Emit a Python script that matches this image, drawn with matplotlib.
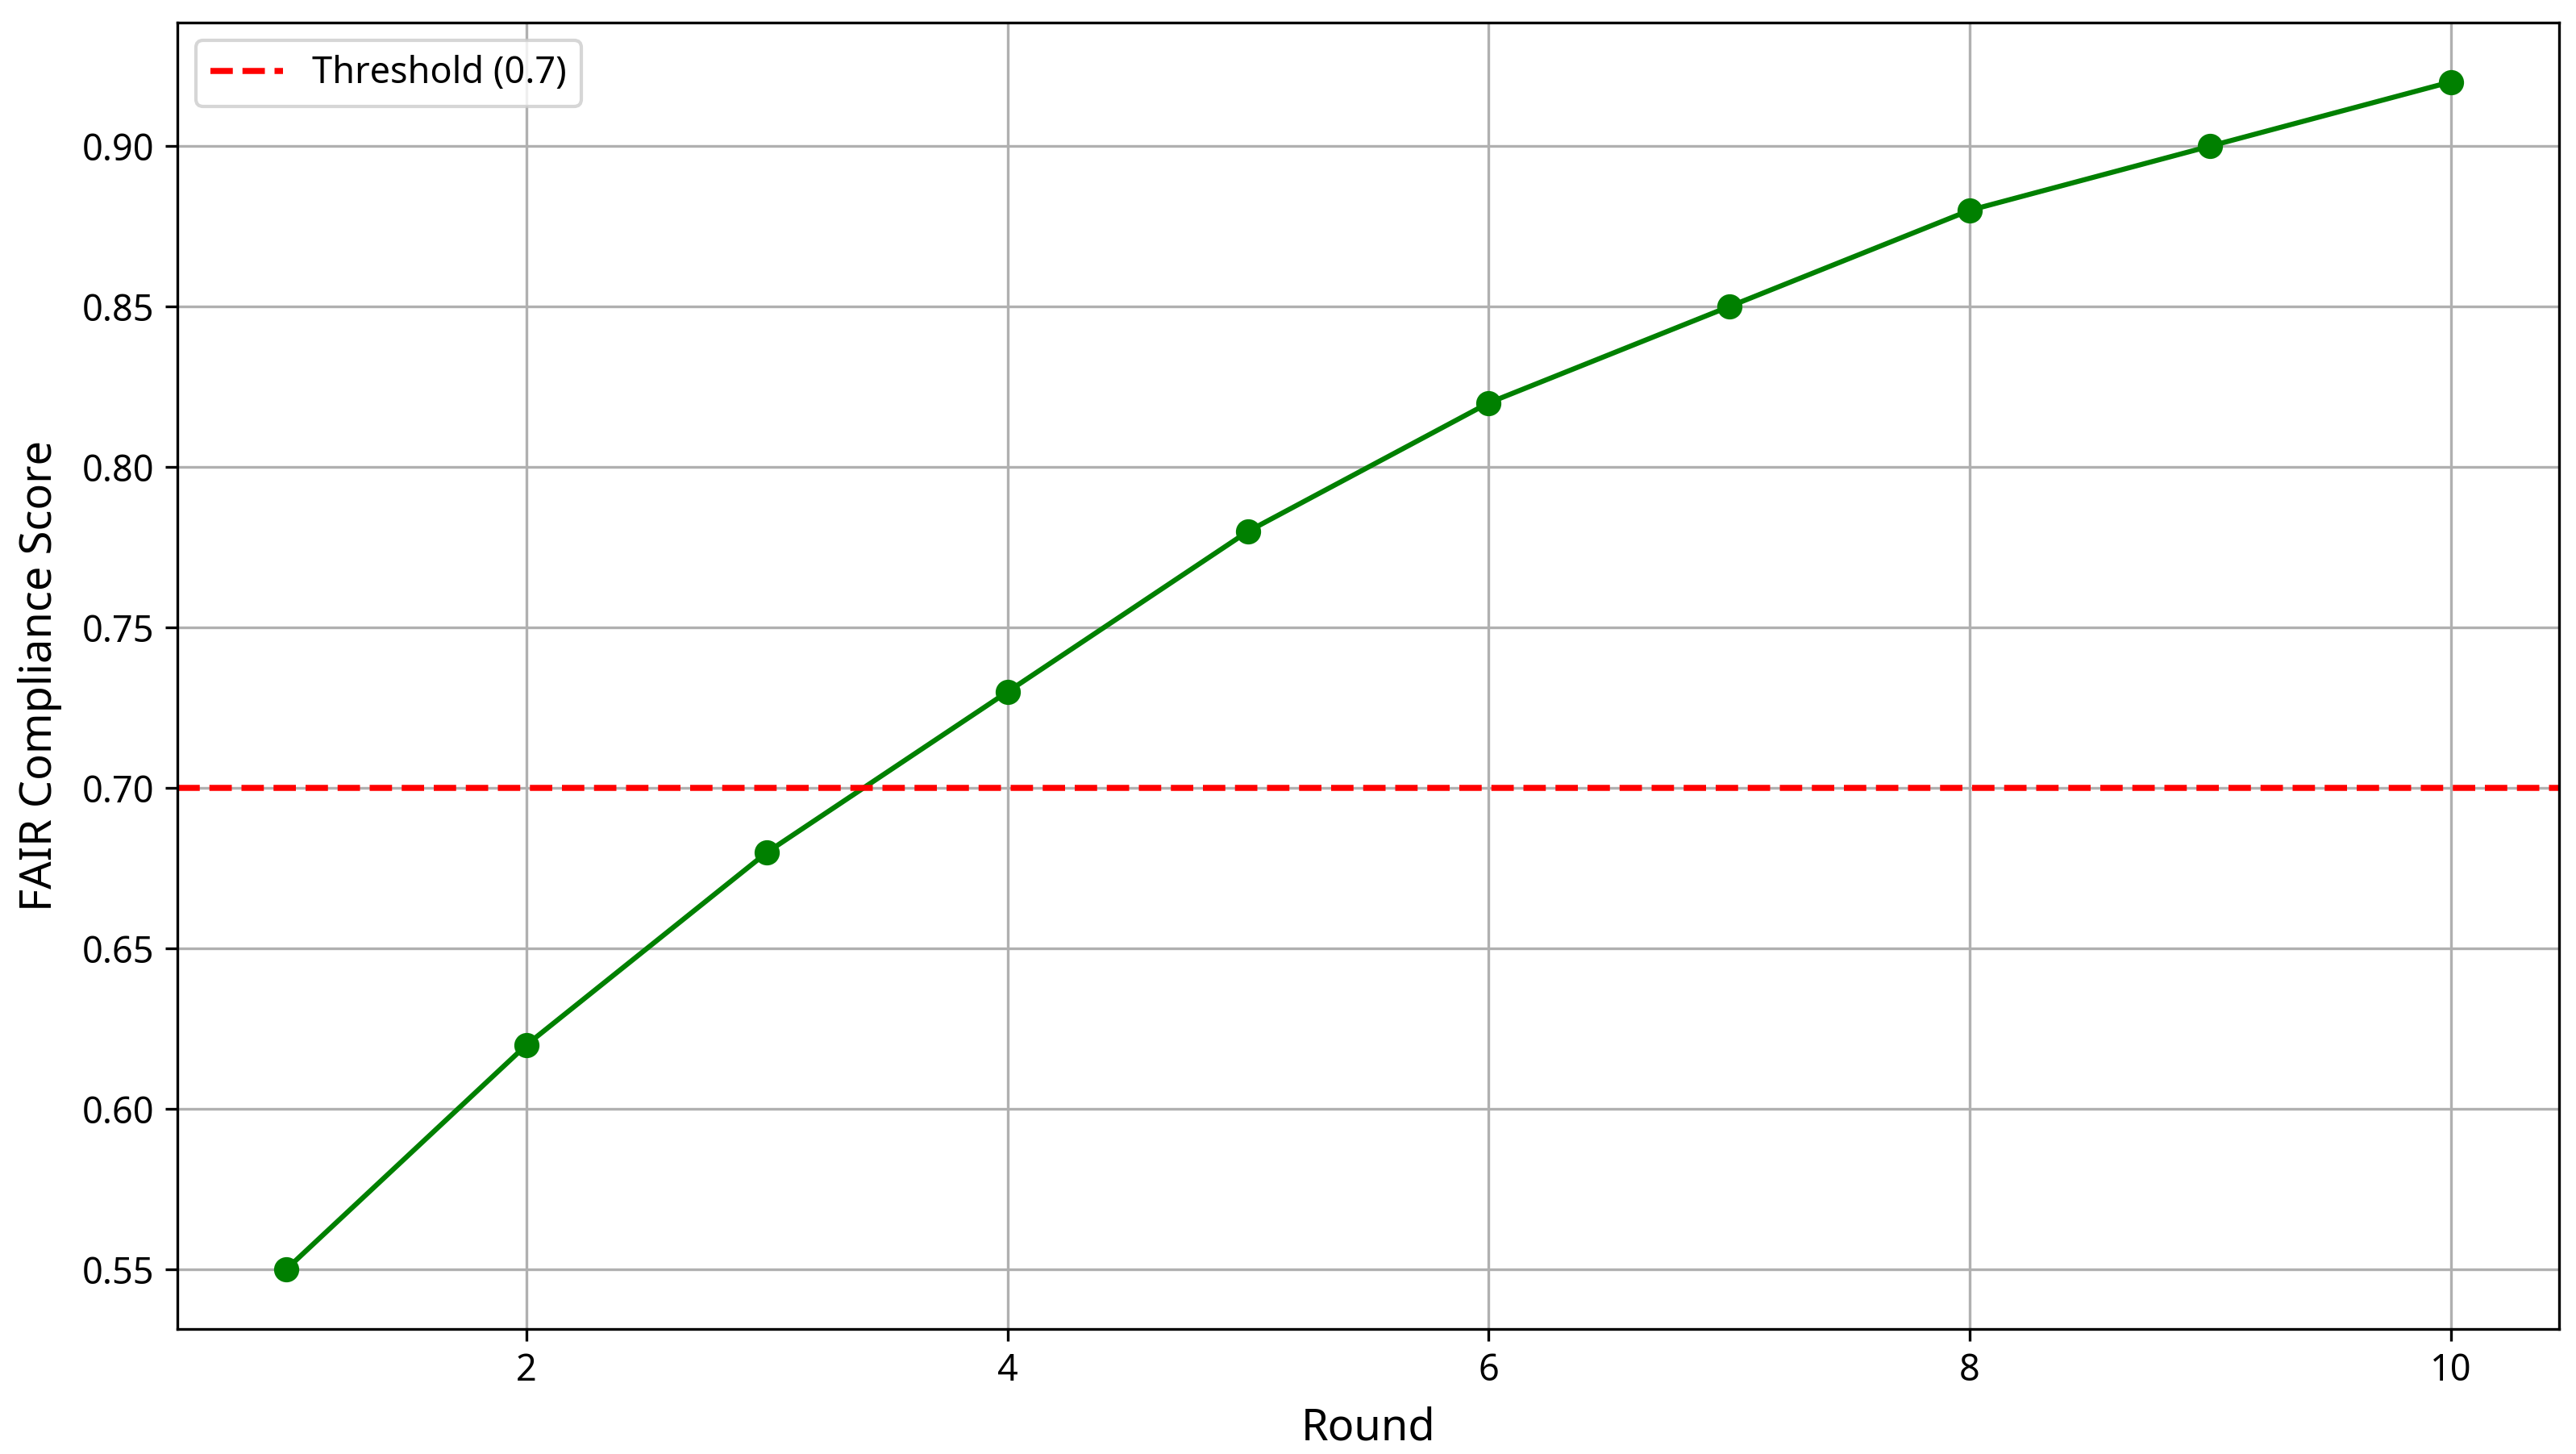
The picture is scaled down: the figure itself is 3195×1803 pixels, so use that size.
import matplotlib
matplotlib.use('Agg')
from matplotlib import pyplot as plt

plt.rcParams['font.family'] = ['Noto Sans', 'DejaVu Sans']

rounds = [1, 2, 3, 4, 5, 6, 7, 8, 9, 10]
scores = [0.55, 0.62, 0.68, 0.73, 0.78, 0.82, 0.85, 0.88, 0.90, 0.92]
threshold = 0.7

fig, ax = plt.subplots(figsize=(10.65, 6.01), dpi=300)
fig.subplots_adjust(left=0.069, right=0.9934, bottom=0.086, top=0.9845)

ax.plot(rounds, scores, color='green', marker='o', markersize=6.5, linewidth=1.5)
ax.axhline(threshold, color='red', linestyle='--', linewidth=1.8, label=f'Threshold ({threshold})')

ax.set_xlabel('Round', fontsize=13, labelpad=5)
ax.set_ylabel('FAIR Compliance Score', fontsize=13, labelpad=6)
ax.tick_params(labelsize=10.8)
ax.grid(True)
ax.legend(loc='upper left', fontsize=10.8)

plt.savefig('out.png', dpi=300)
